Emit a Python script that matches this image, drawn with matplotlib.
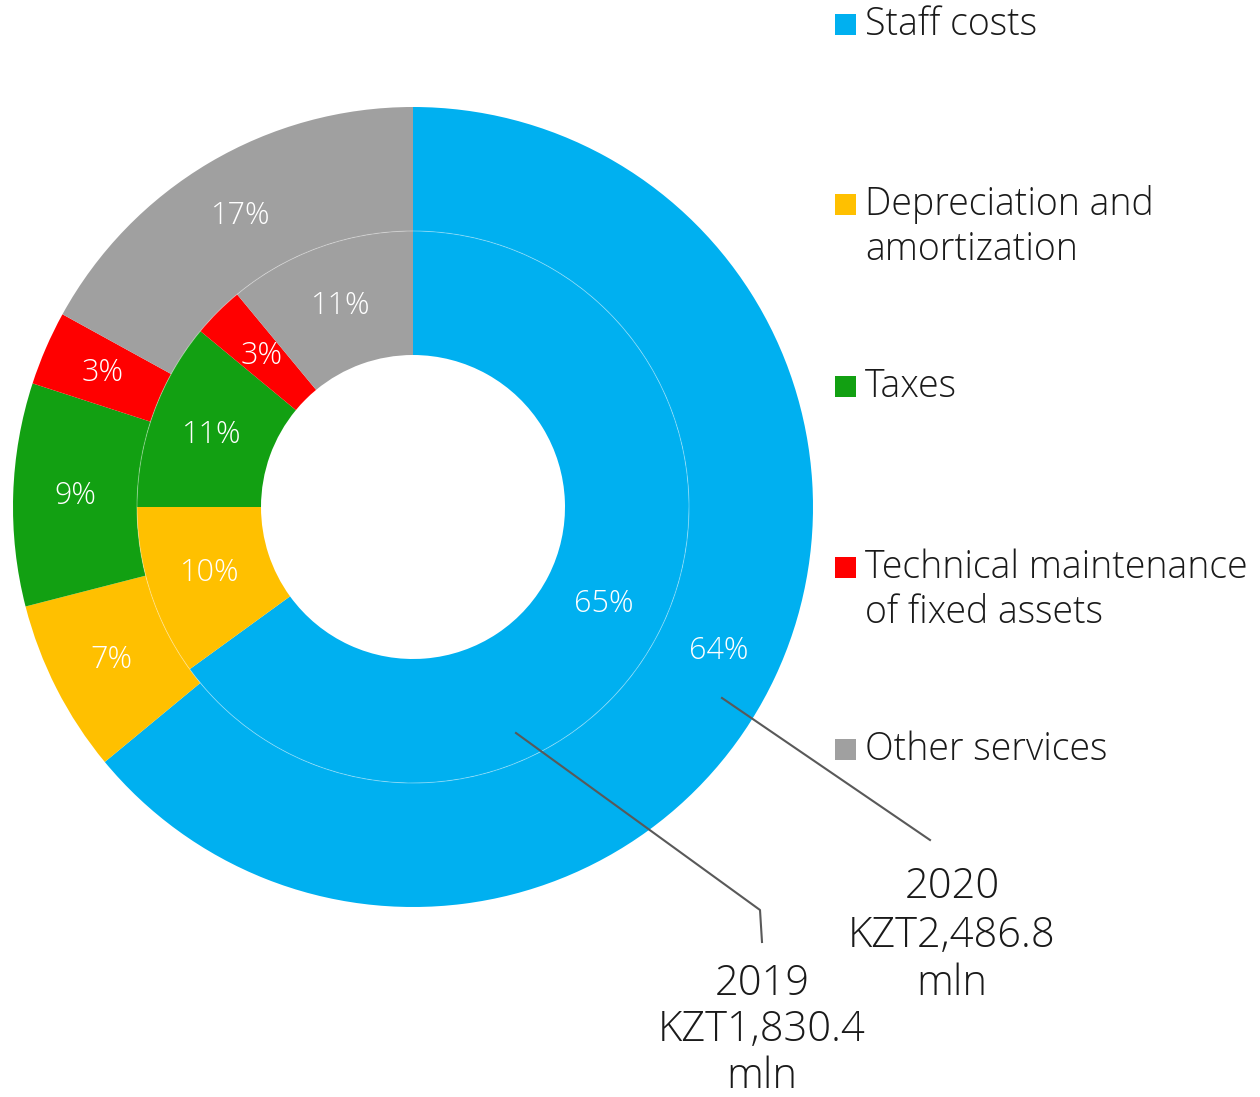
import matplotlib.pyplot as plt
from matplotlib.patches import Rectangle, Circle

plt.rcParams['font.family'] = ['Open Sans', 'DejaVu Sans']
plt.rcParams['font.weight'] = 'light'

categories = ['Staff costs', 'Depreciation and\namortization', 'Taxes',
              'Technical maintenance\nof fixed assets', 'Other services']
colors = ['#00B0F0', '#FFC000', '#12A012', '#FF0000', '#A0A0A0']
share_2020 = [64, 7, 9, 3, 17]
share_2019 = [65, 10, 11, 3, 11]
total_2020 = 'KZT2,486.8'
total_2019 = 'KZT1,830.4'

W, H = 1260, 1097
fig = plt.figure(figsize=(W / 100, H / 100), dpi=100)
ax = fig.add_axes([0, 0, 1, 1])

cx, cy = 413, H - 507
r_out, r_mid, r_in = 400, 276, 152
pct_kw = dict(color='white', fontsize=22)

# outer ring: 2020
ax.pie(share_2020, colors=colors, startangle=90, counterclock=False,
       center=(cx, cy), radius=r_out, frame=True,
       wedgeprops=dict(width=r_out - r_mid, linewidth=0),
       autopct='%d%%', pctdistance=0.845, textprops=pct_kw)

# inner ring: 2019
ax.pie(share_2019, colors=colors, startangle=90, counterclock=False,
       center=(cx, cy), radius=r_mid, frame=True,
       wedgeprops=dict(width=r_mid - r_in, linewidth=0),
       autopct='%d%%', pctdistance=0.775, textprops=pct_kw)

ax.add_patch(Circle((cx, cy), r_mid, fill=False, edgecolor='white',
                    linewidth=0.7, alpha=0.35))
ax.set_xlim(0, W)
ax.set_ylim(0, H)
ax.set_aspect('equal')
ax.axis('off')

# legend: one square per category, text lines set on fixed baselines
legend_base = [35, 215, 397, 578, 760]
for cat, col, yb in zip(categories, colors, legend_base):
    ax.add_patch(Rectangle((835, H - yb), 21, 21, color=col, linewidth=0))
    for k, line in enumerate(cat.split('\n')):
        ax.text(865, H - yb - 45 * k, line, fontsize=27, color='#1a1a1a',
                va='baseline', ha='left')

# leader lines and totals
line_kw = dict(color='#595959', linewidth=1.5)
ax.plot([722, 930], [H - 698, H - 840], **line_kw)
ax.plot([516, 760, 762], [H - 733, H - 910, H - 942], **line_kw)


def total_label(x, y_first, year, amount, step=48.5):
    for k, line in enumerate([year, amount, 'mln']):
        ax.text(x, H - y_first - step * k, line, fontsize=30,
                color='#1a1a1a', ha='center', va='baseline')


total_label(952, 898, '2020', total_2020)
total_label(762, 995, '2019', total_2019, step=46.5)

fig.savefig('out.png', dpi=100)
